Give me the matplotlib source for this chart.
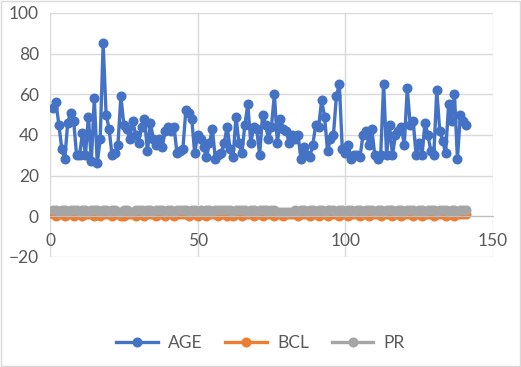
import matplotlib.pyplot as plt
import numpy as np

plt.rcParams['font.family'] = ['Lato', 'DejaVu Sans']

# valores (141 registros)
age = [53, 56, 45, 33, 28, 46, 51, 47, 30, 30, 41, 30, 49, 27, 58, 26, 38, 85, 50, 43,
       30, 31, 35, 59, 45, 43, 38, 47, 40, 36, 44, 48, 32, 46, 38, 35, 38, 34, 42, 44,
       42, 44, 31, 32, 33, 52, 51, 48, 31, 40, 38, 34, 29, 36, 43, 28, 30, 31, 36, 44,
       33, 29, 49, 36, 31, 45, 55, 36, 44, 43, 30, 50, 45, 38, 44, 60, 36, 48, 43, 42,
       36, 40, 38, 40, 28, 34, 30, 29, 35, 45, 44, 57, 49, 32, 38, 40, 59, 65, 33, 31,
       35, 28, 30, 30, 29, 40, 42, 35, 43, 30, 28, 30, 65, 30, 45, 30, 40, 42, 44, 35,
       63, 45, 47, 30, 36, 30, 46, 40, 32, 30, 62, 42, 37, 31, 55, 47, 60, 28, 50, 47,
       45]
bcl = [1, 0, 1, 1, 0, 1, 1, 0, 1, 1, 0, 1, 1, 1, 0, 1, 0, 1, 1, 1,
       0, 1, 1, 0, 0, 1, 1, 1, 0, 1, 1, 0, 1, 1, 1, 0, 1, 1, 0, 1,
       1, 0, 1, 1, 1, 1, 0, 1, 1, 0, 1, 1, 0, 1, 1, 1, 0, 1, 1, 0,
       1, 0, 1, 1, 0, 1, 1, 1, 0, 1, 1, 0, 1, 1, 1, 0, 1, 1, 0, 1,
       1, 1, 1, 0, 1, 1, 1, 0, 1, 1, 0, 1, 1, 0, 1, 1, 1, 0, 1, 1,
       0, 1, 1, 1, 0, 1, 1, 0, 1, 1, 1, 0, 1, 1, 1, 0, 1, 1, 0, 1,
       1, 1, 0, 1, 1, 0, 1, 1, 1, 0, 1, 1, 1, 0, 1, 1, 0, 1, 1, 1,
       1]
pr = [3, 3, 2, 3, 3, 2, 3, 3, 3, 2, 3, 3, 2, 3, 3, 3, 2, 3, 3, 2,
      3, 3, 2, 2, 3, 3, 2, 2, 3, 3, 3, 2, 3, 3, 2, 3, 3, 3, 2, 3,
      3, 2, 3, 3, 3, 3, 2, 3, 3, 2, 3, 2, 3, 3, 2, 3, 3, 3, 3, 3,
      3, 2, 3, 3, 3, 3, 2, 3, 3, 2, 3, 3, 3, 2, 3, 3, 2, 2, 2, 2,
      2, 2, 3, 2, 3, 3, 2, 3, 3, 2, 3, 3, 2, 3, 3, 3, 2, 3, 3, 2,
      3, 3, 2, 3, 3, 2, 3, 3, 3, 2, 3, 3, 2, 3, 3, 3, 2, 3, 3, 2,
      3, 3, 3, 2, 3, 3, 2, 3, 3, 3, 2, 3, 3, 3, 2, 3, 3, 2, 3, 3,
      3]
x = np.arange(1, len(age) + 1)

fig = plt.figure(figsize=(5.21, 3.67), dpi=100)
ax = fig.add_axes([0.096, 0.30, 0.85, 0.665])

series = [('AGE', age, '#4472C4'), ('BCL', bcl, '#ED7D31'), ('PR', pr, '#A5A5A5')]
for nome, vals, cor in series:
    ax.plot(x, vals, color=cor, lw=2.4, marker='o', ms=6.2, label=nome)

ax.set_xlim(0, 150)
ax.set_ylim(-20, 100)
ax.set_xticks([0, 50, 100, 150])
ax.set_yticks(range(-20, 101, 20))
ax.grid(True, color='#D9D9D9', lw=1.0)
ax.set_axisbelow(True)
for s in ['top', 'right', 'left']:
    ax.spines[s].set_visible(False)
ax.spines['bottom'].set_position(('data', 0))
ax.spines['bottom'].set_color('#BFBFBF')
ax.tick_params(axis='both', length=0, labelsize=12.5, colors='#595959')
ax.tick_params(axis='x', pad=12)
ax.tick_params(axis='y', pad=8)

leg = fig.legend(loc='center', bbox_to_anchor=(0.5, 0.065), ncol=3, frameon=False,
                 fontsize=12.5, handlelength=2.4, handletextpad=0.6, columnspacing=1.3)
for t in leg.get_texts():
    t.set_color('#595959')

fig.patches.append(plt.Rectangle((0.002, 0.003), 0.996, 0.994, transform=fig.transFigure,
                                 fill=False, edgecolor='#D9D9D9', lw=1))

plt.savefig('out.png')
